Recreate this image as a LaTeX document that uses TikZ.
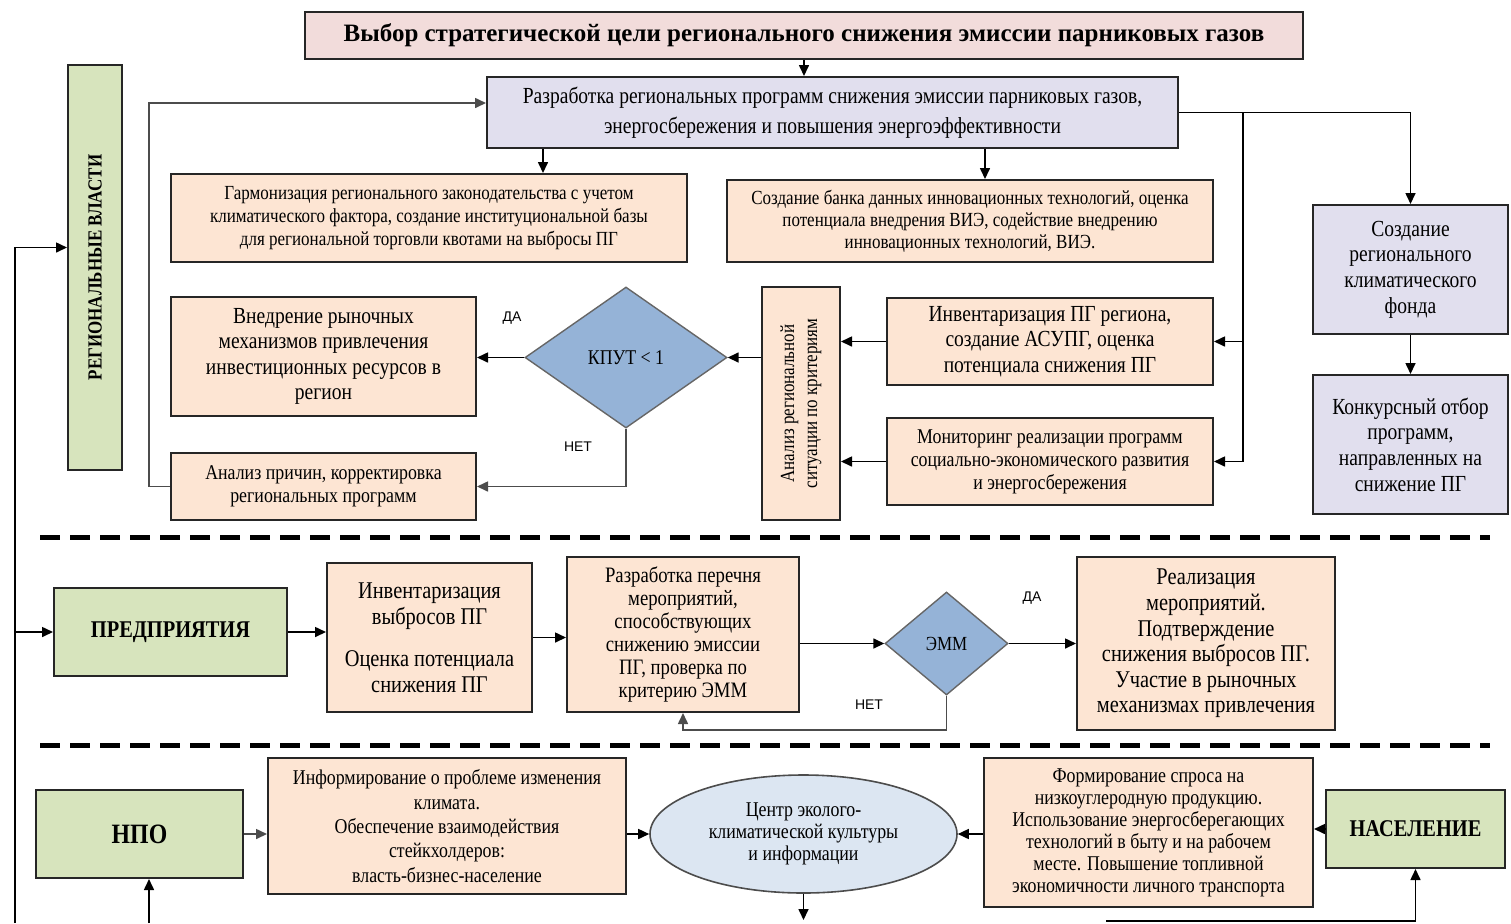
\documentclass[tikz,border=0pt]{standalone}
\usepackage{fontspec}
\setmainfont{Liberation Serif}[FakeStretch=0.85]
\newfontfamily\titlefont{Liberation Serif}
\newfontfamily\labelfont{Liberation Sans}
\usetikzlibrary{shapes,arrows,arrows.meta,positioning}

\definecolor{titlepink}{HTML}{F2DCDB}
\definecolor{progviolet}{HTML}{E1DFEE}
\definecolor{taskpeach}{HTML}{FDE5D3}
\definecolor{actorgreen}{HTML}{D7E4BD}
\definecolor{checkblue}{HTML}{95B3D7}
\definecolor{centerblue}{HTML}{DCE6F2}
\newcommand{\fsz}[2]{\fontsize{#1}{#2}\selectfont}

\begin{document}
\begin{tikzpicture}[x=0.5pt, y=-0.5pt,
    box/.style={draw=black!85, line width=1pt, align=center, inner sep=2pt},
    task/.style={box, fill=taskpeach},
    prog/.style={box, fill=progviolet},
    actor/.style={box, fill=actorgreen},
    check/.style={diamond, draw=black!60, line width=0.7pt, fill=checkblue, inner sep=0pt},
    arr/.style={-{Triangle[length=5.5pt,width=5pt]}, line width=0.8pt},
    sep/.style={line width=2.5pt, dash pattern=on 10pt off 5pt},
    yesno/.style={font=\labelfont\fsz{7}{8}}]
    \useasboundingbox (0,0) rectangle (1511,923);

    % regional level
    \node[box, fill=titlepink, minimum width=499pt, minimum height=23.5pt, font=\titlefont\bfseries\fsz{12.5}{14}] (goal) at (804,35.5) {Выбор стратегической цели регионального снижения эмиссии парниковых газов};
    \node[prog, minimum width=345.5pt, minimum height=35.5pt, font=\fsz{11.5}{15}] (razr) at (832.5,112.5) {Разработка региональных программ снижения эмиссии парниковых газов,\\энергосбережения и повышения энергоэффективности};
    \node[task, minimum width=258pt, minimum height=44pt, font=\fsz{10}{11.5}] (garm) at (429,218) {Гармонизация регионального законодательства с учетом\\климатического фактора, создание институциональной базы\\для региональной торговли квотами на выбросы ПГ};
    \node[task, minimum width=243pt, minimum height=41pt, font=\fsz{10}{11}] (bank) at (970,221) {Создание банка данных инновационных технологий, оценка\\потенциала внедрения ВИЭ, содействие внедрению\\инновационных технологий, ВИЭ.};
    \node[prog, minimum width=97.5pt, minimum height=64.5pt, font=\fsz{11.5}{12.8}] (fond) at (1410.5,269.5) {Создание\\регионального\\климатического\\фонда};
    \node[prog, minimum width=97.5pt, minimum height=69.5pt, font=\fsz{11.5}{12.8}] (konk) at (1410.5,444.5) {Конкурсный отбор\\программ,\\направленных на\\снижение ПГ};
    \node[actor, minimum width=27pt, minimum height=202.5pt, font=\bfseries\fsz{10}{12}] (vlast) at (95,267.5) {\rotatebox{90}{РЕГИОНАЛЬНЫЕ ВЛАСТИ}};
    \node[task, minimum width=163pt, minimum height=43.5pt, font=\fsz{11.5}{12.8}] (invreg) at (1050,341.5) {Инвентаризация ПГ региона,\\создание АСУПГ, оценка\\потенциала снижения ПГ};
    \node[task, minimum width=163pt, minimum height=43.5pt, font=\fsz{10.5}{11.5}] (monit) at (1050,461.5) {Мониторинг реализации программ\\социально-экономического развития\\и энергосбережения};
    \node[task, minimum width=39pt, minimum height=116.5pt, font=\fsz{10}{11.5}] (analiz) at (801,403.5) {\rotatebox{90}{\begin{tabular}{@{}c@{}}Анализ региональной\\ситуации по критериям\end{tabular}}};
    \node[check, minimum width=101pt, minimum height=70.5pt, font=\fsz{10.5}{12}] (kput) at (626,357.5) {КПУТ < 1};
    \node[task, minimum width=152.5pt, minimum height=59.5pt, font=\fsz{11.5}{12.8}] (vned) at (323.5,356.5) {Внедрение рыночных\\механизмов привлечения\\инвестиционных ресурсов в\\регион};
    \node[task, minimum width=152.5pt, minimum height=33.5pt, font=\fsz{10.5}{11.5}] (prich) at (323.5,486.5) {Анализ причин, корректировка\\региональных программ};
    \node[yesno] (kputyes) at (512,318) {ДА};
    \node[yesno] (kputno) at (578,447) {НЕТ};

    \draw[arr] (goal.south) -- (goal.south |- razr.north);
    \draw[arr] (razr.south -| 543,0) -- (garm.north -| 543,0);
    \draw[arr] (razr.south -| 985,0) -- (bank.north -| 985,0);
    \draw[arr] (razr.east) -| (fond.north);
    \draw[arr] (razr.east -| 1243,0) |- (invreg.east);
    \draw[arr] (razr.east -| 1243,0) |- (monit.east);
    \draw[arr] (fond.south) -- (konk.north);
    \draw[arr] (invreg.west) -- (invreg.west -| analiz.east);
    \draw[arr] (monit.west) -- (monit.west -| analiz.east);
    \draw[arr] (analiz.west |- kput.east) -- (kput.east);
    \draw[arr] (kput.west) -- (kput.west -| vned.east);
    \draw[arr, black!70] (kput.south) |- (prich.east);
    \draw[arr, black!70] (prich.west) -- ++(-21,0) |- ([yshift=4.75pt]razr.west);

    \draw[sep] (40,537) -- (1490,537);
    \draw[sep] (40,745) -- (1490,745);

    % enterprises
    \node[actor, minimum width=116.5pt, minimum height=44pt, font=\bfseries\fsz{12}{14}] (predpr) at (170.5,632) {ПРЕДПРИЯТИЯ};
    \node[task, minimum width=102.5pt, minimum height=74.5pt, font=\fsz{12}{13}] (invvyb) at (429.5,637.5) {Инвентаризация\\выбросов ПГ\\[8pt]Оценка потенциала\\снижения ПГ};
    \node[task, minimum width=116pt, minimum height=77.5pt, font=\fsz{11}{11.5}] (perech) at (683,634.5) {Разработка перечня\\мероприятий,\\способствующих\\снижению эмиссии\\ПГ, проверка по\\критерию ЭММ};
    \node[check, minimum width=61.5pt, minimum height=51.5pt, font=\fsz{10}{12}] (emm) at (946.5,643.5) {ЭММ};
    \node[task, minimum width=129pt, minimum height=86.5pt, font=\fsz{12}{12.8}] (realiz) at (1206,643.5) {Реализация\\мероприятий.\\Подтверждение\\снижения выбросов ПГ.\\Участие в рыночных\\механизмах привлечения};
    \node[yesno] (emmyes) at (1032,598) {ДА};
    \node[yesno] (emmno) at (869,705) {НЕТ};

    \coordinate (leftfoot) at (15,923);
    \draw[arr] (leftfoot) |- ([yshift=10pt]vlast.west);
    \draw[arr] (leftfoot |- predpr.west) -- (predpr.west);
    \draw[arr] (predpr.east) -- (invvyb.west |- predpr.east);
    \draw[arr] (invvyb.east) -- (perech.west |- invvyb.east);
    \draw[arr] (perech.east |- emm.west) -- (emm.west);
    \draw[arr] (emm.east) -- (realiz.west |- emm.east);
    \draw[arr, black!70] (emm.south) -- (emm.south |- 0,730) -| (perech.south);

    % population and NGOs
    \node[actor, minimum width=103.5pt, minimum height=44pt, font=\bfseries\fsz{14}{16}] (npo) at (139.5,834) {НПО};
    \node[task, minimum width=179pt, minimum height=68pt, font=\fsz{10.5}{12.2}] (inform) at (447,826) {Информирование о проблеме изменения\\климата.\\Обеспечение взаимодействия\\стейкхолдеров:\\власть-бизнес-население};
    \node[ellipse, draw=black!70, line width=0.8pt, fill=centerblue, minimum width=153.5pt, minimum height=59pt, align=center, inner sep=0pt, font=\fsz{10.5}{11}] (centr) at (803.5,834) {Центр эколого-\\климатической культуры\\и информации};
    \node[task, minimum width=164.5pt, minimum height=74.5pt, font=\fsz{10.5}{11}] (formir) at (1148.5,832.5) {Формирование спроса на\\низкоуглеродную продукцию.\\Использование энергосберегающих\\технологий в быту и на рабочем\\месте. Повышение топливной\\экономичности личного транспорта};
    \node[actor, minimum width=89.5pt, minimum height=39pt, font=\bfseries\fsz{12}{14}] (nasel) at (1415.5,829) {НАСЕЛЕНИЕ};

    \coordinate (npofoot) at (149,923);
    \coordinate (naselfoot) at (1106,921);
    \draw[arr, black!70] (npo.east) -- (inform.west |- npo.east);
    \draw[arr] (inform.east |- centr.west) -- (centr.west);
    \draw[arr] (formir.west |- centr.east) -- (centr.east);
    \draw[arr] (nasel.west) -- (nasel.west -| formir.east);
    \draw[arr] (centr.south) -- (centr.south |- 0,920);
    \draw[arr] (npofoot) -- (npo.south -| npofoot);
    \draw[arr] (naselfoot) -| (nasel.south);
\end{tikzpicture}
\end{document}
